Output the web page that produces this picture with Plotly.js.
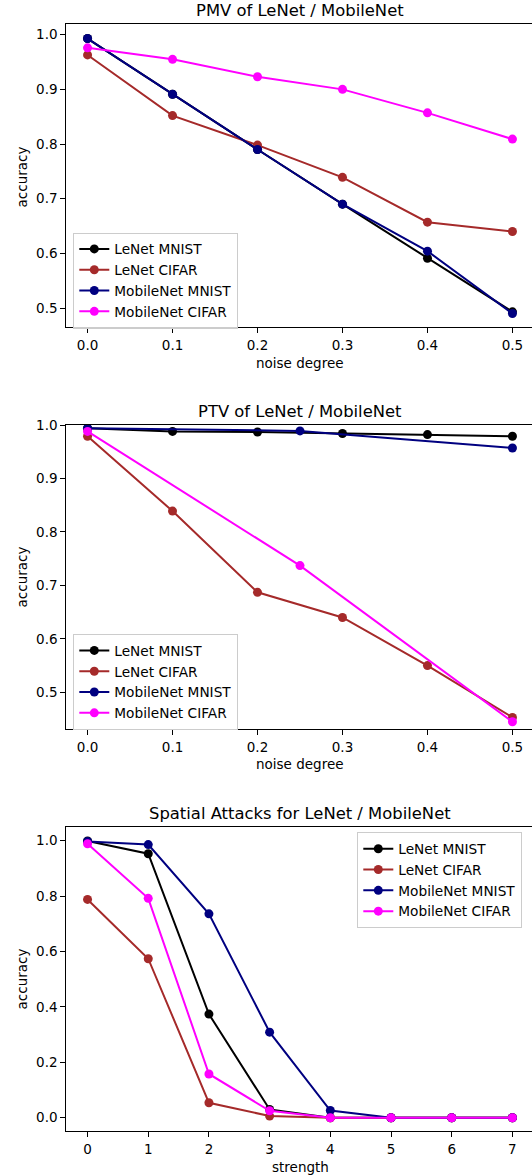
<!DOCTYPE html>
<html><head><meta charset="utf-8">
<script src="https://cdn.plot.ly/plotly-3.0.1.min.js"></script>
<style>html,body{margin:0;padding:0;background:#fff}</style>
</head><body><div id="chart" style="width:532px;height:1176px"></div>
<script>
const seriesNames = ['LeNet MNIST', 'LeNet CIFAR', 'MobileNet MNIST', 'MobileNet CIFAR'];
const seriesColors = ['#000000', '#a52a2a', '#000080', '#ff00ff'];

// PMV
const pmvX = [0, 0.1, 0.2, 0.3, 0.4, 0.5];
const pmvLeNetMnist = [0.993, 0.891, 0.790, 0.690, 0.591, 0.493];
const pmvLeNetCifar = [0.963, 0.852, 0.798, 0.739, 0.657, 0.640];
const pmvMobileMnist = [0.993, 0.891, 0.790, 0.690, 0.604, 0.490];
const pmvMobileCifar = [0.976, 0.955, 0.923, 0.900, 0.857, 0.809];

// PTV
const ptvLeNetX = [0, 0.1, 0.2, 0.3, 0.4, 0.5];
const ptvMobileX = [0, 0.25, 0.5];
const ptvLeNetMnist = [0.994, 0.988, 0.987, 0.984, 0.982, 0.979];
const ptvLeNetCifar = [0.979, 0.839, 0.687, 0.640, 0.550, 0.453];
const ptvMobileMnist = [0.994, 0.989, 0.957];
const ptvMobileCifar = [0.988, 0.737, 0.445];

// Spatial
const spX = [0, 1, 2, 3, 4, 5, 6, 7];
const spLeNetMnist = [0.999, 0.953, 0.374, 0.030, 0.0, 0.0, 0.0, 0.0];
const spLeNetCifar = [0.788, 0.574, 0.054, 0.006, 0.0, 0.0, 0.0, 0.0];
const spMobileMnist = [0.997, 0.986, 0.736, 0.309, 0.026, 0.0, 0.0, 0.0];
const spMobileCifar = [0.989, 0.792, 0.158, 0.025, 0.0, 0.0, 0.0, 0.0];

const W = 532, H = 1176;
const FONT = 'DejaVu Sans, sans-serif';

function mk(x, y, i, ax, leg) {
  return {
    x: x, y: y, type: 'scatter', mode: 'lines+markers',
    name: seriesNames[i],
    line: {color: seriesColors[i], width: 2},
    marker: {color: seriesColors[i], size: 9},
    xaxis: 'x' + ax, yaxis: 'y' + ax, legend: leg
  };
}

const traces = [
  mk(pmvX, pmvLeNetMnist, 0, '', 'legend'),
  mk(pmvX, pmvLeNetCifar, 1, '', 'legend'),
  mk(pmvX, pmvMobileMnist, 2, '', 'legend'),
  mk(pmvX, pmvMobileCifar, 3, '', 'legend'),
  mk(ptvLeNetX, ptvLeNetMnist, 0, '2', 'legend2'),
  mk(ptvLeNetX, ptvLeNetCifar, 1, '2', 'legend2'),
  mk(ptvMobileX, ptvMobileMnist, 2, '2', 'legend2'),
  mk(ptvMobileX, ptvMobileCifar, 3, '2', 'legend2'),
  mk(spX, spLeNetMnist, 0, '3', 'legend3'),
  mk(spX, spLeNetCifar, 1, '3', 'legend3'),
  mk(spX, spMobileMnist, 2, '3', 'legend3'),
  mk(spX, spMobileCifar, 3, '3', 'legend3')
];

const px = v => v / W;
const py = v => 1 - v / H;
const TICK = 13.5;

function xax(range, dtick, fmt, anchor) {
  return {
    domain: [px(66.3), 1], range: range, dtick: dtick, tick0: 0, tickformat: fmt,
    showline: true, mirror: true, linecolor: '#000', linewidth: 1,
    ticks: 'outside', ticklen: 5, tickcolor: '#000', tickwidth: 1,
    showgrid: false, zeroline: false, anchor: anchor, automargin: false,
    tickfont: {family: FONT, size: TICK, color: '#000'}
  };
}
function yax(domain, range, dtick, anchor) {
  return {
    domain: domain, range: range, dtick: dtick, tick0: 0, tickformat: '.1f',
    showline: true, mirror: false, linecolor: '#000', linewidth: 1,
    ticks: 'outside', ticklen: 5, tickcolor: '#000', tickwidth: 1,
    showgrid: false, zeroline: false, anchor: anchor, automargin: false,
    tickfont: {family: FONT, size: TICK, color: '#000'}
  };
}

function legendCfg(xp, yp) {
  return {
    x: px(xp), y: py(yp), xanchor: 'left', yanchor: 'top',
    bgcolor: 'rgba(255,255,255,0.8)', bordercolor: '#cccccc', borderwidth: 1,
    font: {family: FONT, size: 13.7, color: '#000'}, tracegroupgap: 0
  };
}

function ann(text, xp, yp, size, angle) {
  return {
    text: text, xref: 'paper', yref: 'paper', x: px(xp), y: py(yp),
    xanchor: 'center', yanchor: 'middle', showarrow: false,
    textangle: angle || 0, font: {family: FONT, size: size, color: '#000'}
  };
}

const layout = {
  width: W, height: H,
  margin: {l: 0, r: 0, t: 0, b: 0},
  paper_bgcolor: '#fff', plot_bgcolor: '#fff',
  font: {family: FONT, color: '#000'},
  showlegend: true,
  xaxis: xax([-0.025, 0.523], 0.1, '.1f', 'y'),
  yaxis: yax([py(327.3), py(24)], [0.4647, 1.0196], 0.1, 'x'),
  xaxis2: xax([-0.025, 0.523], 0.1, '.1f', 'y2'),
  yaxis2: yax([py(729.3), py(425)], [0.4308, 1.0], 0.1, 'x2'),
  xaxis3: xax([-0.35, 7.323], 1, 'd', 'y3'),
  yaxis3: yax([py(1131.3), py(827.3)], [-0.049, 1.0484], 0.2, 'x3'),
  legend: legendCfg(73.3, 232.5),
  legend2: legendCfg(73.3, 634),
  legend3: legendCfg(357.3, 832.3),
  annotations: [
    ann('PMV of LeNet / MobileNet', 300, 10.7, 16.4),
    ann('noise degree', 300, 362.7, 13.5),
    ann('accuracy', 22.4, 177, 13.5, -90),
    ann('PTV of LeNet / MobileNet', 300, 411.3, 16.4),
    ann('noise degree', 300, 764.3, 13.5),
    ann('accuracy', 22.4, 577, 13.5, -90),
    ann('Spatial Attacks for LeNet / MobileNet', 300, 813.3, 16.4),
    ann('strength', 300, 1166.7, 13.5),
    ann('accuracy', 22.4, 979, 13.5, -90)
  ]
};

Plotly.newPlot('chart', traces, layout, {staticPlot: true, displayModeBar: false});
</script></body></html>
